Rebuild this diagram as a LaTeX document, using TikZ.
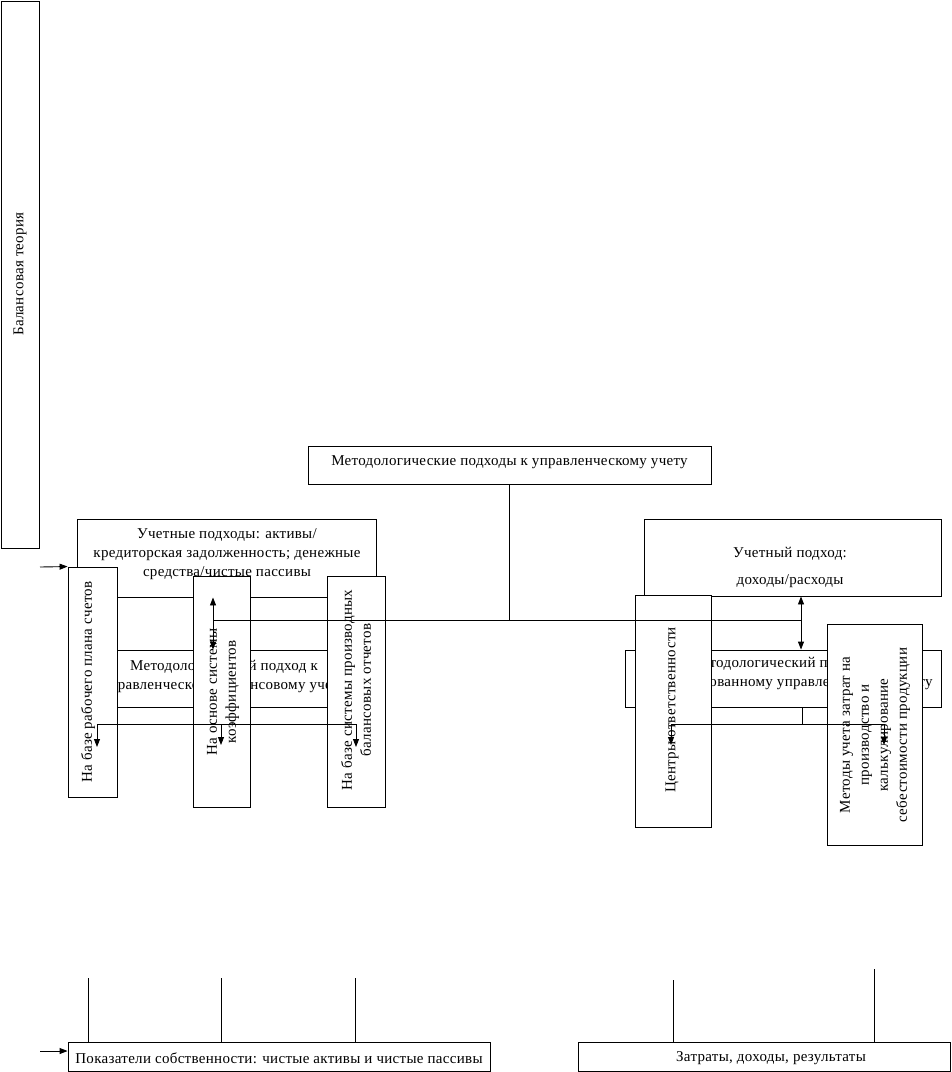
\documentclass[tikz,border=0pt]{standalone}
\usepackage{fontspec}
\setmainfont{Liberation Serif}[LetterSpace=2]
\usetikzlibrary{arrows.meta}
\begin{document}
\begin{tikzpicture}[x=1pt,y=-1pt,
  box/.style={draw,fill=white,line width=0.9pt,inner sep=0pt},
  txt/.style={inner sep=0pt,align=center,font=\fontsize{15}{19}\selectfont},
  rtxt/.style={txt,rotate=90},
  conn/.style={line width=0.9pt},
  arr/.style={conn,-{Triangle[length=8pt,width=6pt]}},
  darr/.style={conn,{Triangle[length=8pt,width=6pt]}-{Triangle[length=8pt,width=6pt]}}]
\useasboundingbox (0,0) rectangle (952,1072);
% left tall box
\node[box,minimum width=38pt,minimum height=547pt] (bt) at (20,274.5) {};
\node[rtxt] (btt) at (20,274) {Балансовая теория};
% top box
\node[box,minimum width=403pt,minimum height=38pt] (mt) at (509.5,465) {};
\node[txt] (mtt) at (509.5,462) {Методологические подходы к управленческому учету};
% left group
\node[box,minimum width=299pt,minimum height=78pt] (ua) at (226.5,558) {};
\node[txt] (uat) at (227,554) {Учетные подходы: активы/\\кредиторская задолженность; денежные\\средства/чистые пассивы};
\node[box,minimum width=299pt,minimum height=57pt] (ml) at (226.5,678.5) {};
\node[txt] (mlt) at (224,676) {Методологический подход к\\управленческому балансовому учету};
\node[box,minimum width=49pt,minimum height=230pt] (v1) at (92.5,682) {};
\node[rtxt] (v1t) at (88,682) {На базе рабочего плана счетов};
\node[box,minimum width=57pt,minimum height=231pt] (v2) at (221.5,691.5) {};
\node[rtxt] (v2t) at (223,692) {На основе системы\\коэффициентов};
\node[box,minimum width=58pt,minimum height=231pt] (v3) at (356,691.5) {};
\node[rtxt] (v3t) at (356,690) {На базе системы производных\\балансовых отчетов};
% right group
\node[box,minimum width=297pt,minimum height=77pt] (ur) at (792.5,557.5) {};
\node[txt] (urt) at (790,567) {Учетный подход:\\[8pt]доходы/расходы};
\node[box,minimum width=316pt,minimum height=57pt] (mr) at (783,678.5) {};
\node[txt] (mrt) at (783,673) {Методологический подход к\\\hspace*{14pt}ориентированному управленческому учету};
\node[box,minimum width=76pt,minimum height=232pt] (cr) at (673,711) {};
\node[rtxt] (crt) at (672,710) {Центры ответственности};
\node[box,minimum width=95pt,minimum height=221pt] (mz) at (874.5,734.5) {};
\node[rtxt] (mzt) at (875,735) {Методы учета затрат на\\производство и\\калькулирование\\себестоимости продукции};
% bottom boxes
\node[box,minimum width=422pt,minimum height=29pt] (pb) at (279,1056.5) {};
\node[txt] (pbt) at (279,1058) {Показатели собственности: чистые активы и чистые пассивы};
\node[box,minimum width=372.5pt,minimum height=29pt] (zb) at (764.25,1056.5) {};
\node[txt] (zbt) at (771,1058) {Затраты, доходы, результаты};
% connectors
\coordinate (lx) at (213,620);
\coordinate (rx) at (801,620);
\draw[conn] (mt.south) -- (mt.south |- lx);
\draw[conn] (lx) -- (rx);
\draw[darr] (ua.south -| lx) -- (ml.north -| lx);
\draw[darr] (ur.south -| rx) -- (mr.north -| rx);
\coordinate (lb1) at (97,724);
\coordinate (lb2) at (221,724);
\coordinate (lb3) at (356,724);
\coordinate (le1) at (97,747);
\coordinate (le2) at (221,745);
\coordinate (le3) at (356,747);
\draw[conn] (lb1) -- (lb3);
\draw[arr] (lb1) -- (le1);
\draw[arr] (lb2) -- (le2);
\draw[arr] (lb3) -- (le3);
\coordinate (rm) at (802,724);
\coordinate (rb1) at (671,724);
\coordinate (rb2) at (884,724);
\coordinate (re1) at (671,745);
\coordinate (re2) at (884,745);
\draw[conn] (mr.south -| rm) -- (rm);
\draw[conn] (rb1) -- (rb2);
\draw[arr] (rb1) -- (re1);
\draw[arr] (rb2) -- (re2);
\coordinate (vin) at (40,567);
\draw[arr] (vin) -- (v1.north west);
\coordinate (pin) at (40,1051);
\draw[arr] (pin) -- (pin -| pb.west);
\coordinate (pa1) at (88,978);
\coordinate (pa2) at (221,978);
\coordinate (pa3) at (355,978);
\draw[conn] (pa1) -- (pa1 |- pb.north);
\draw[conn] (pa2) -- (pa2 |- pb.north);
\draw[conn] (pa3) -- (pa3 |- pb.north);
\coordinate (za1) at (673,980);
\coordinate (za2) at (874,969);
\draw[conn] (za1) -- (za1 |- zb.north);
\draw[conn] (za2) -- (za2 |- zb.north);
\end{tikzpicture}
\end{document}
